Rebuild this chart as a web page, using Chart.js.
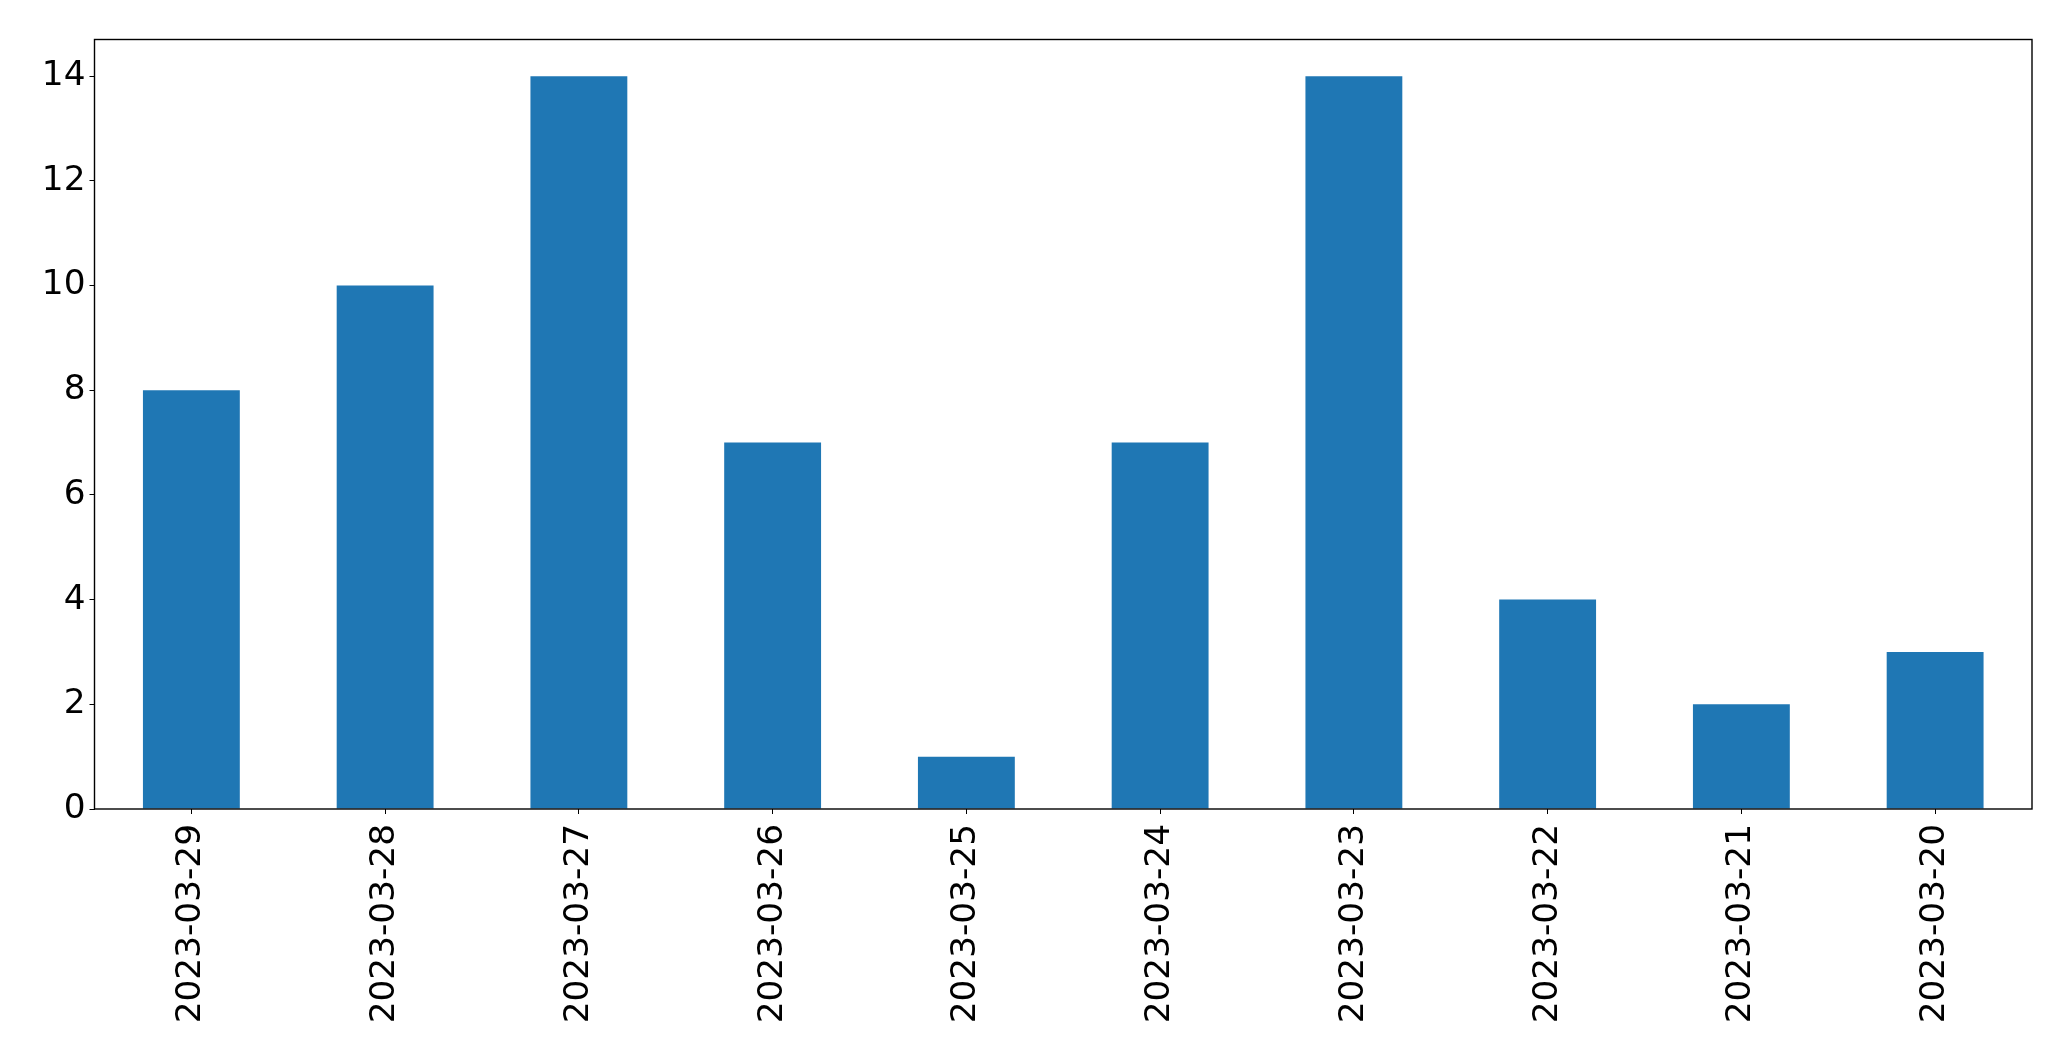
<!DOCTYPE html>
<html>
<head>
<meta charset="utf-8">
<script src="https://cdn.jsdelivr.net/npm/chart.js@4.4.0/dist/chart.umd.min.js"></script>
<style>
  html, body { margin: 0; padding: 0; background: #fff; }
  #wrap { width: 2071px; height: 1061px; }
</style>
</head>
<body>
<div id="wrap"><canvas id="chart"></canvas></div>
<script>
// data
var dates = ["2023-03-29", "2023-03-28", "2023-03-27", "2023-03-26", "2023-03-25",
             "2023-03-24", "2023-03-23", "2023-03-22", "2023-03-21", "2023-03-20"];
var counts = [8, 10, 14, 7, 1, 7, 14, 4, 2, 3];
var yTicks = [0, 2, 4, 6, 8, 10, 12, 14];

// matplotlib-style box around the plot area
var frame = {
  id: "frame",
  afterDraw: function(chart) {
    var a = chart.chartArea, c = chart.ctx;
    c.save();
    c.strokeStyle = "#000";
    c.lineWidth = 1.4;
    c.strokeRect(a.left, a.top, a.right - a.left, a.bottom - a.top);
    c.restore();
  }
};

var font = { family: "'DejaVu Sans'", size: 34.3 };

new Chart(document.getElementById("chart"), {
  type: "bar",
  data: {
    labels: dates,
    datasets: [{
      data: counts,
      backgroundColor: "#1f77b4",
      borderWidth: 0,
      categoryPercentage: 1.0,
      barPercentage: 0.5
    }]
  },
  options: {
    responsive: true,
    maintainAspectRatio: false,
    animation: false,
    layout: { padding: { left: 0, top: 39.5, right: 39, bottom: 0 } },
    plugins: { legend: { display: false }, tooltip: { enabled: false } },
    scales: {
      x: {
        offset: true,
        grid: { drawOnChartArea: false, tickLength: 5, tickColor: "#000", offset: false },
        border: { display: false },
        ticks: { color: "#000", font: font, maxRotation: 90, minRotation: 90, padding: 10, autoSkip: false },
        afterFit: function(s) { s.height = 1061 - 809; }
      },
      y: {
        min: 0,
        max: 14.7,
        grid: { drawOnChartArea: false, tickLength: 5, tickColor: "#000" },
        border: { display: false },
        ticks: { color: "#000", font: font, stepSize: 2, includeBounds: false, padding: 4 },
        afterBuildTicks: function(s) { s.ticks = yTicks.map(function(v) { return { value: v }; }); },
        afterFit: function(s) { s.width = 94.5; }
      }
    }
  },
  plugins: [frame]
});
</script>
</body>
</html>
